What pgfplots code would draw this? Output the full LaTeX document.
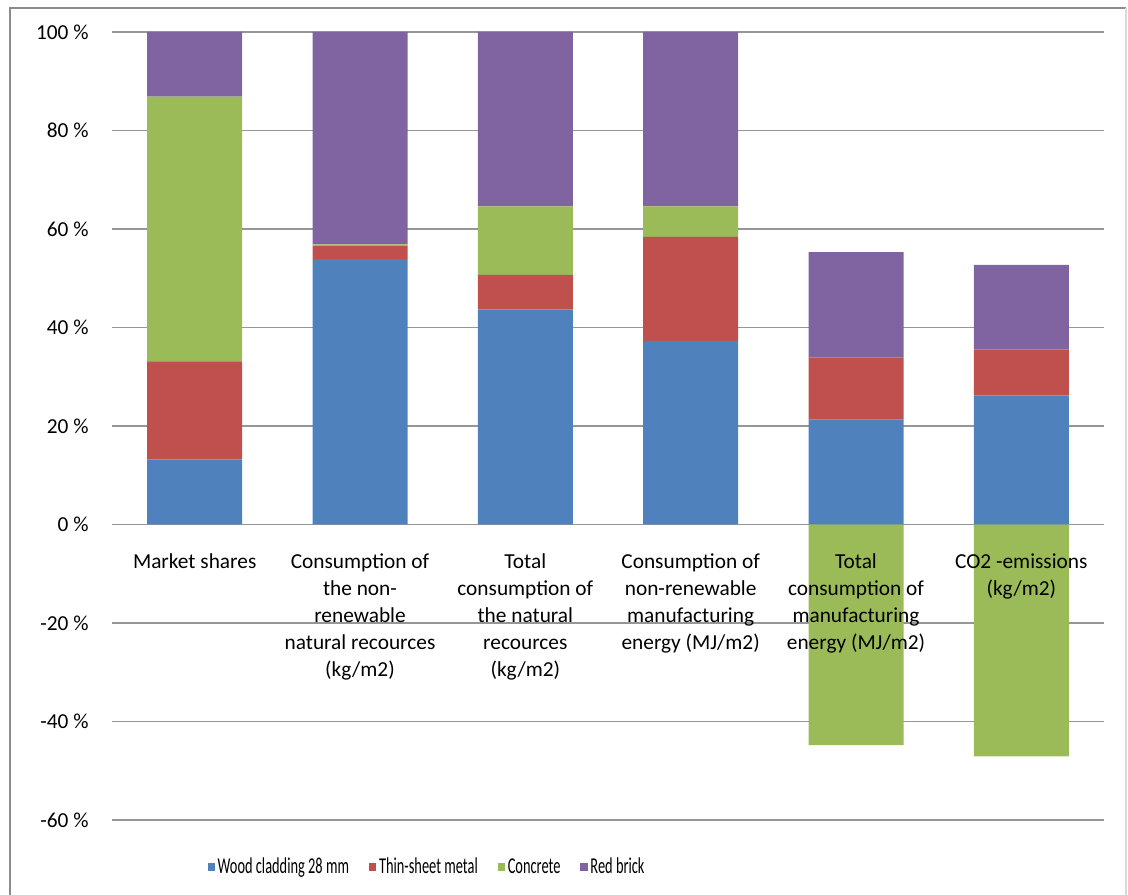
\documentclass[border=0pt]{standalone}
\usepackage{fontspec}
\setmainfont{Carlito}
\newfontfamily\legfont[FakeStretch=0.635]{Carlito}
\usepackage{pgfplots}
\pgfplotsset{compat=1.18}

\definecolor{cblue}{HTML}{4F81BD}
\definecolor{cred}{HTML}{C0504D}
\definecolor{cgreen}{HTML}{9BBB59}
\definecolor{cpurple}{HTML}{8064A2}
\definecolor{cgrid}{RGB}{150,150,150}
\definecolor{cframe}{RGB}{140,140,140}

% shared geometry of both layers
\pgfplotsset{
  layer/.style={
    at={(84pt,56.25pt)}, anchor=south west,
    scale only axis, width=744pt, height=591pt,
    xmin=-0.5, xmax=5.5, ymin=-60, ymax=100,
    bar width=71.25pt,
    axis line style={draw=none},
    tick style={draw=none}, major tick length=0pt,
  }
}

\begin{document}
\begin{tikzpicture}[font=\fontsize{16}{20.25}\selectfont]
\useasboundingbox (0,0) rectangle (846pt,671.25pt);
\draw[cframe, line width=1.5pt] (7.5pt,0) -- (7.5pt,665.25pt) -- (844.5pt,665.25pt);
\draw[black!15, line width=1pt] (844.5pt,665.25pt) -- (844.5pt,0);

% background layer: grid and the negative concrete values
\begin{axis}[layer, ybar,
  xtick=\empty,
  ytick={-60,-40,...,100}, yticklabels={},
  ymajorgrids, grid style={cgrid, line width=1.1pt}]
\addplot[fill=cgreen, draw=none, bar shift=0pt]
  coordinates {(4,-44.8) (5,-47.1)};
\end{axis}

% front layer: positive stacked shares, labels and legend
\begin{axis}[layer, ybar stacked,
  xtick={0,...,5},
  xticklabels={
    {Market shares},
    {Consumption of\\the non-\\renewable\\natural recources\\(kg/m2)},
    {Total\\consumption of\\the natural\\recources\\(kg/m2)},
    {Consumption of\\non-renewable\\manufacturing\\energy (MJ/m2)},
    {Total\\consumption of\\manufacturing\\energy (MJ/m2)},
    {CO2 -emissions\\(kg/m2)}},
  xticklabel style={align=center, anchor=north, yshift=203pt},
  ytick={-60,-40,...,100},
  yticklabels={-60 \%,-40 \%,-20 \%,0 \%,20 \%,40 \%,60 \%,80 \%,100 \%},
  yticklabel style={anchor=east, xshift=-14pt},
  legend columns=4,
  legend style={draw=none, fill=none,
    at={(axis description cs:0.318,-0.0596)}, anchor=center,
    font=\legfont\fontsize{17}{20}\selectfont,
    /tikz/every even column/.append style={column sep=13pt}},
  legend image code/.code={\fill[#1] (0pt,-2.75pt) rectangle (5.5pt,2.75pt);},
]
\addplot[fill=cblue, draw=none]
  coordinates {(0,13.2) (1,53.9) (2,43.7) (3,37.3) (4,21.3) (5,26.2)};
\addplot[fill=cred, draw=none]
  coordinates {(0,19.9) (1,2.7) (2,7.0) (3,21.1) (4,12.6) (5,9.3)};
\addplot[fill=cgreen, draw=none]
  coordinates {(0,53.8) (1,0.3) (2,13.9) (3,6.2) (4,0) (5,0)};
\addplot[fill=cpurple, draw=none]
  coordinates {(0,13.1) (1,43.1) (2,35.4) (3,35.4) (4,21.4) (5,17.2)};
\legend{Wood cladding 28 mm, Thin-sheet metal, Concrete, Red brick}
\end{axis}
\end{tikzpicture}
\end{document}
